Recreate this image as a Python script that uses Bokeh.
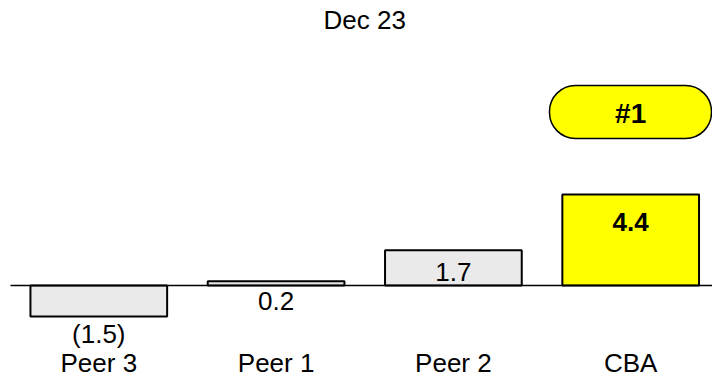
from bokeh.plotting import figure
from bokeh.models import Range1d, BoxAnnotation, ColumnDataSource
from bokeh.core.properties import value
from bokeh.embed import file_html
from bokeh.resources import INLINE

# ---- data ----
categories = ["Peer 3", "Peer 1", "Peer 2", "CBA"]
values = [-1.5, 0.2, 1.7, 4.4]
value_labels = ["(1.5)", "0.2", "1.7", "4.4"]
title_text = "Dec 23"
rank_text = "#1"

# ---- styles / layout ----
bar_colors = ["#eaeaea", "#eaeaea", "#eaeaea", "#ffff00"]
label_styles = ["normal", "normal", "normal", "bold"]
PXU = 20.67          # pixels per value unit
U = 1.0 / PXU        # value units per pixel
FIX = 10             # baseline compensation (px)
FONT = value("Liberation Sans")
FS = "26px"

xs = list(range(len(categories)))
label_y = [values[0] - (27 - FIX) * U, 0 - (25 - FIX) * U,
           0 + (4 + FIX) * U, values[3] - (37 - FIX) * U]

p = figure(width=712, height=378,
           x_range=Range1d(-0.5544, 3.4614), y_range=Range1d(-4.499, 13.788),
           output_backend="svg", toolbar_location=None, min_border=0,
           x_axis_location=None, y_axis_location=None,
           outline_line_color=None)
p.grid.visible = False

bars = ColumnDataSource(dict(x=xs, top=values, color=bar_colors))
p.vbar(x="x", top="top", bottom=0, width=0.771, source=bars,
       fill_color="color", line_color="black", line_width=2)

# baseline axis line
p.segment(x0=[-0.498], y0=[0], x1=[3.4614], y1=[0], line_color="black", line_width=1.5)

labels = ColumnDataSource(dict(x=xs, y=label_y, text=value_labels, style=label_styles))
p.text(x="x", y="y", text="text", source=labels, text_font=FONT, text_font_size=FS,
       text_font_style="style", text_align="center", text_baseline="alphabetic",
       text_color="black")

cats = ColumnDataSource(dict(x=xs, y=[-3.759] * len(xs), text=categories))
p.text(x="x", y="y", text="text", source=cats, text_font=FONT, text_font_size=FS,
       text_align="center", text_baseline="alphabetic", text_color="black")

# title
p.text(x=[(xs[0] + xs[-1]) / 2], y=[12.854], text=[title_text], text_font=FONT,
       text_font_size=FS, text_align="center", text_baseline="alphabetic",
       text_color="black")

# rank badge over the top bar
best = max(xs, key=lambda i: values[i])
p.add_layout(BoxAnnotation(left=2.542, right=3.4557, bottom=7.112, top=9.676,
                           fill_color="#ffff00", fill_alpha=1.0,
                           line_color="black", line_alpha=1.0, line_width=1.5,
                           border_radius=26))
p.text(x=[xs[best]], y=[8.326], text=[rank_text], text_font=FONT, text_font_size="28px",
       text_font_style="bold", text_align="center", text_baseline="alphabetic",
       text_color="black", level="overlay")

open("out.html", "w").write(file_html(p, INLINE))
